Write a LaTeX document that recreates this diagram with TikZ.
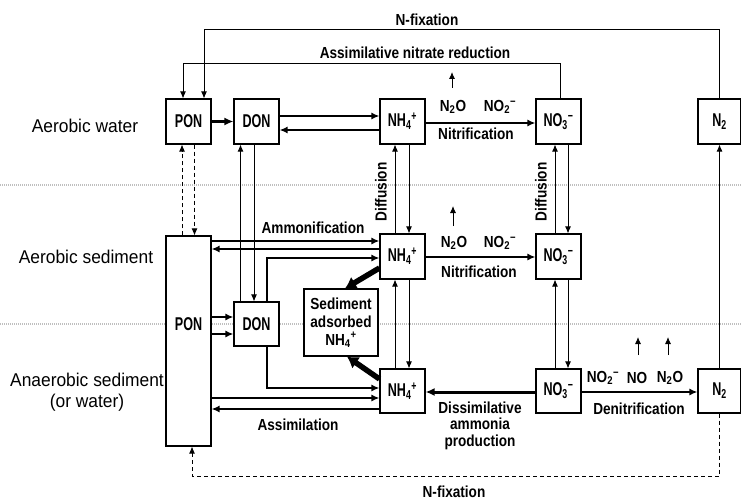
\documentclass[tikz,border=0pt]{standalone}
\usepackage{fontspec}
\setmainfont{Liberation Sans}
\newfontfamily\boxfnt[FakeStretch=0.68]{Liberation Sans}
\newfontfamily\lblfnt[FakeStretch=0.85]{Liberation Sans}
\newfontfamily\sidefnt[FakeStretch=0.94]{Liberation Sans}
\usetikzlibrary{arrows.meta}
\newcommand{\chNH}{NH\textsubscript{4}\textsuperscript{+}}
\newcommand{\chNOt}{NO\textsubscript{3}\textsuperscript{−}}
\newcommand{\chNOd}{NO\textsubscript{2}\textsuperscript{−}}
\newcommand{\chNtO}{N\textsubscript{2}O}
\newcommand{\chNt}{N\textsubscript{2}}
\tikzset{
  bx/.style={draw, line width=1.1pt, fill=white, minimum width=45pt, minimum height=45pt, inner sep=0pt,
    font=\boxfnt\bfseries\fontsize{18.5}{18}\selectfont},
  bxt/.style={inner sep=0pt, font=\boxfnt\bfseries\fontsize{18.5}{18}\selectfont},
  sedbx/.style={draw, line width=1.1pt, fill=white, minimum width=74pt, minimum height=67pt, inner sep=0pt,
    align=center, font=\lblfnt\bfseries\fontsize{16}{18}\selectfont},
  lb/.style={inner sep=0pt, font=\lblfnt\bfseries\fontsize{16}{16.5}\selectfont},
  side/.style={inner sep=0pt, align=center, font=\sidefnt\fontsize{18.5}{21}\selectfont},
  ln/.style={line width=0.9pt, -{Latex[length=7pt,width=6pt]}},
  dsh/.style={line width=0.9pt, dash pattern=on 4pt off 3pt, -{Latex[length=7pt,width=6pt]}},
  th/.style={line width=2pt, -{Latex[length=8pt,width=7pt]}},
  thk/.style={line width=3pt, -{Latex[length=9pt,width=8pt]}},
  hv/.style={line width=5.5pt, -{Latex[length=11pt,width=14pt]}},
  band/.style={line width=2.5pt, gray!50, dash pattern=on 1.2pt off 0.8pt}
}
\begin{document}
\begin{tikzpicture}[x=1pt,y=-1pt]
\fill[white] (0,0) rectangle (741,500);
\useasboundingbox (0,0) rectangle (741,500);

% halftone bands
\draw[band] (0,185) -- (741,185);
\draw[band] (0,324) -- (741,324);

% boxes
\node[bx] (pon1) at (188.5,121.5) {PON};
\node[bx] (don1) at (256.5,121.5) {DON};
\node[bx] (nh1) at (402.5,121.5) {\chNH};
\node[bx] (no1) at (558.5,121.5) {\chNOt};
\node[bx, minimum width=43pt] (n2a) at (719.5,121.5) {\chNt};

\node[bx, minimum height=210pt] (pon2) at (188.5,341) {};
\node[bxt] at (188.5,324) {PON};
\node[bx, minimum height=44pt] (don2) at (256.5,324) {DON};
\node[sedbx] (sed) at (341,322.5) {Sediment\\adsorbed\\\chNH};
\node[bx] (nh2) at (402.5,256.5) {\chNH};
\node[bx] (no2) at (558.5,256.5) {\chNOt};

\node[bx, minimum height=44pt] (nh3) at (402.5,391) {\chNH};
\node[bx, minimum height=44pt] (no3) at (558.5,391) {\chNOt};
\node[bx, minimum width=43pt, minimum height=44pt] (n2c) at (719.5,391) {\chNt};

% side labels
\node[side] at (85,126) {Aerobic water};
\node[side] at (86,257) {Aerobic sediment};
\node[side] at (87,392) {Anaerobic sediment\\(or water)};

% top loops
\draw[ln] (n2a.north) -- (n2a.north |- 0,29) -| ([xshift=15.5pt]pon1.north);
\node[lb] at (427,20) {N-fixation};
\draw[ln] ([xshift=1.5pt]no1.north) -- ([xshift=1.5pt]no1.north |- 0,63) -| ([xshift=-5.5pt]pon1.north);
\node[lb] at (415,53) {Assimilative nitrate reduction};

% top row
\draw[thk] (pon1) -- (don1);
\draw[th] (don1.east |- 0,116) -- (nh1.west |- 0,116);
\draw[th] (nh1.west |- 0,130) -- (don1.east |- 0,130);
\draw[th] (nh1.east |- 0,123) -- (no1.west |- 0,123);
\coordinate (up1) at (452,88);
\draw[ln] (up1) -- ++(0,-16);
\node[lb] at (453,107) {\chNtO};
\node[lb] at (500,107) {\chNOd};
\node[lb] at (476,134) {Nitrification};

% vertical exchanges
\draw[dsh] ([xshift=-6.5pt]pon2.north) -- ([xshift=-6.5pt]pon1.south);
\draw[dsh] ([xshift=6pt]pon1.south) -- ([xshift=6pt]pon2.north);
\draw[ln] ([xshift=-16pt]don2.north) -- ([xshift=-16pt]don1.south);
\draw[ln] ([xshift=-2.5pt]don1.south) -- ([xshift=-2.5pt]don2.north);

\draw[ln] ([xshift=-7.5pt]nh2.north) -- ([xshift=-7.5pt]nh1.south);
\draw[ln] ([xshift=6.5pt]nh1.south) -- ([xshift=6.5pt]nh2.north);
\draw[ln] ([xshift=-7.5pt]nh3.north) -- ([xshift=-7.5pt]nh2.south);
\draw[ln] ([xshift=6.5pt]nh2.south) -- ([xshift=6.5pt]nh3.north);
\draw[ln] ([xshift=-3.5pt]no2.north) -- ([xshift=-3.5pt]no1.south);
\draw[ln] ([xshift=9.5pt]no1.south) -- ([xshift=9.5pt]no2.north);
\draw[ln] ([xshift=-3.5pt]no3.north) -- ([xshift=-3.5pt]no2.south);
\draw[ln] ([xshift=9.5pt]no2.south) -- ([xshift=9.5pt]no3.north);
\node[lb, rotate=90] at (381,192) {Diffusion};
\node[lb, rotate=90] at (541,192) {Diffusion};

% middle row
\coordinate (up2) at (453,226);
\draw[ln] (up2) -- ++(0,-20);
\node[lb] at (454,243) {\chNtO};
\node[lb] at (500,243) {\chNOd};
\draw[th] (nh2.east |- 0,257) -- (no2.west |- 0,257);
\node[lb] at (479,272) {Nitrification};

\node[lb] at (313,228) {Ammonification};
\draw[th] (pon2.east |- 0,241) -- (nh2.west |- 0,241);
\draw[th] (nh2.west |- 0,249) -- (pon2.east |- 0,249);
\draw[th] ([xshift=10.5pt]don2.north) |- (nh2.west |- 0,258);

\draw[hv] (nh2.west |- 0,268) -- ([xshift=4pt]sed.north);
\draw[hv] (nh3.west |- 0,379) -- ([xshift=6pt]sed.south);

% PON -> DON in sediment
\draw[th] (pon2.east |- 0,317) -- (don2.west |- 0,317);
\draw[th] (pon2.east |- 0,334) -- (don2.west |- 0,334);

% bottom row
\draw[th] ([xshift=10.5pt]don2.south) |- (nh3.west |- 0,388);
\draw[th] (pon2.east |- 0,398) -- (nh3.west |- 0,398);
\draw[th] (nh3.west |- 0,409) -- (pon2.east |- 0,409);
\node[lb] at (298,425) {Assimilation};

\draw[thk] (no3.west |- 0,392) -- (nh3.east |- 0,392);
\node[lb, align=center] at (480,425.5) {Dissimilative\\ammonia\\production};
\draw[th] (no3.east |- 0,392) -- (n2c.west |- 0,392);
\node[lb] at (639,409) {Denitrification};
\node[lb] at (603,378) {\chNOd};
\node[lb] at (637,378) {NO};
\node[lb] at (670,378) {\chNtO};
\coordinate (up3) at (638,355);
\coordinate (up4) at (668,355);
\draw[ln] (up3) -- ++(0,-18);
\draw[ln] (up4) -- ++(0,-18);

% N2 links
\draw[ln] (n2c.north) -- (n2a.south);
\draw[dsh] (n2c.south) -- (n2c.south |- 0,476) -| ([xshift=3.5pt]pon2.south);
\node[lb] at (454,492) {N-fixation};
\end{tikzpicture}
\end{document}
